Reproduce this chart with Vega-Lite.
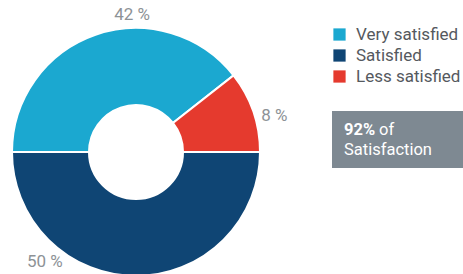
{
  "$schema": "https://vega.github.io/schema/vega-lite/v6.json",
  "padding": 0,
  "background": "white",
  "bounds": "flush",
  "spacing": 60,
  "config": {
    "view": {"stroke": null},
    "font": "Roboto",
    "concat": {"spacing": 10}
  },
  "hconcat": [
    {
      "width": 272,
      "height": 304,
      "data": {
        "values": [
          {"category": "Satisfied", "value": 50, "label": "50 %", "rank": 1},
          {"category": "Very satisfied", "value": 39.4, "label": "42 %", "rank": 2},
          {"category": "Less satisfied", "value": 10.6, "label": "8 %", "rank": 3}
        ]
      },
      "encoding": {
        "theta": {
          "field": "value",
          "type": "quantitative",
          "stack": true,
          "scale": {"domain": [0, 100], "range": [1.5708, 7.854]}
        },
        "order": {"field": "rank", "type": "quantitative"}
      },
      "layer": [
        {
          "mark": {"type": "arc", "innerRadius": 47, "outerRadius": 124, "stroke": "white", "strokeWidth": 2},
          "encoding": {
            "color": {
              "field": "category",
              "type": "nominal",
              "scale": {
                "domain": ["Very satisfied", "Satisfied", "Less satisfied"],
                "range": ["#1ba8d0", "#0f4574", "#e53a2e"]
              },
              "legend": {
                "orient": "none",
                "legendX": 331,
                "legendY": 26,
                "direction": "vertical",
                "title": null,
                "padding": 0,
                "symbolType": "square",
                "symbolSize": 150,
                "symbolStrokeWidth": 0,
                "symbolOpacity": 1,
                "labelFontSize": 17,
                "labelFont": "Roboto",
                "labelColor": "#55595e",
                "labelOffset": 8,
                "rowPadding": 3
              }
            }
          }
        },
        {
          "mark": {"type": "text", "radius": 137, "thetaOffset": 0.304, "fontSize": 17},
          "encoding": {
            "detail": {"field": "category"},
            "color": {"value": "#8d9296"},
            "text": {"condition": {"test": "datum.category === 'Very satisfied'", "field": "label"}, "value": ""}
          }
        },
        {
          "mark": {"type": "text", "radius": 143, "thetaOffset": 0.08, "fontSize": 17},
          "encoding": {
            "detail": {"field": "category"},
            "color": {"value": "#8d9296"},
            "text": {"condition": {"test": "datum.category === 'Less satisfied'", "field": "label"}, "value": ""}
          }
        },
        {
          "mark": {"type": "text", "radius": 143, "thetaOffset": 0.691, "fontSize": 17},
          "encoding": {
            "detail": {"field": "category"},
            "color": {"value": "#8d9296"},
            "text": {"condition": {"test": "datum.category === 'Satisfied'", "field": "label"}, "value": ""}
          }
        }
      ]
    },
    {
      "spacing": 10,
      "vconcat": [
        {
          "width": 131,
          "height": 101,
          "data": {"values": []},
          "mark": {"type": "point", "opacity": 0}
        },
        {
          "width": 131,
          "height": 57,
          "view": {"fill": "#7e8992", "stroke": null},
          "data": {
            "values": [
              {"line": "1", "part": "92%"},
              {"line": "1", "part": "of"},
              {"line": "2", "part": "Satisfaction"}
            ]
          },
          "encoding": {
            "y": {"field": "line", "type": "ordinal", "axis": null, "scale": {"type": "point", "padding": 0.925}},
            "text": {"field": "part"}
          },
          "layer": [
            {
              "transform": [{"filter": "datum.part === '92%'"}],
              "mark": {"type": "text", "align": "left", "baseline": "middle", "x": 12, "fontSize": 16.5, "fontWeight": "bold", "color": "white"}
            },
            {
              "transform": [{"filter": "datum.part === 'of'"}],
              "mark": {"type": "text", "align": "left", "baseline": "middle", "x": 47, "fontSize": 16.5, "color": "white"}
            },
            {
              "transform": [{"filter": "datum.part === 'Satisfaction'"}],
              "mark": {"type": "text", "align": "left", "baseline": "middle", "x": 12, "fontSize": 16.5, "color": "white"}
            }
          ]
        }
      ]
    }
  ]
}
